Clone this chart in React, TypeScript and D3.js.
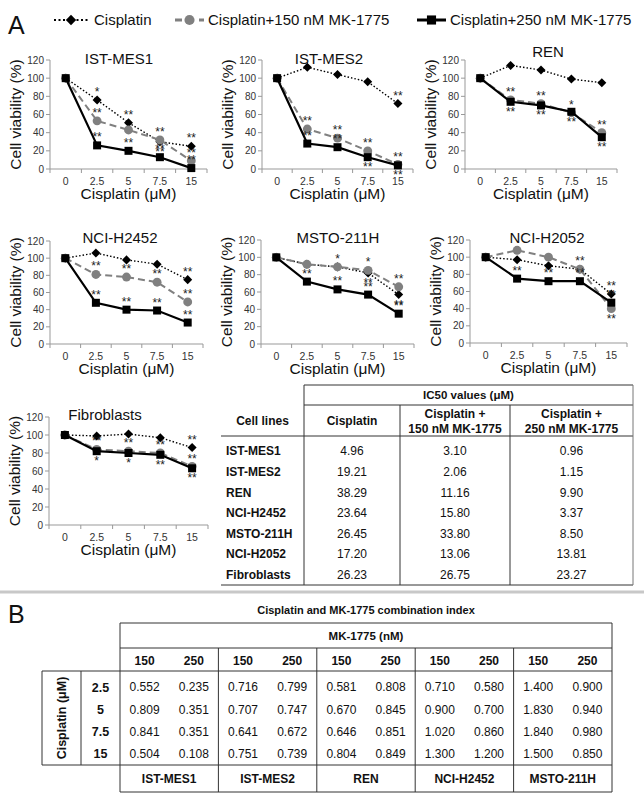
import React from 'react';
import * as d3 from 'd3';

const FONT = '"Liberation Sans", Arial, sans-serif';

// x categories and y ticks of the viability plots
const doses = ['0', '2.5', '5', '7.5', '15'];
const yTicks = [0, 20, 40, 60, 80, 100, 120];
const seriesNames = ['Cisplatin', 'Cisplatin+150 nM MK-1775', 'Cisplatin+250 nM MK-1775'];

const cellLines = ['IST-MES1', 'IST-MES2', 'REN', 'NCI-H2452', 'MSTO-211H', 'NCI-H2052', 'Fibroblasts'];

// cell viability (%) per cell line, one value per dose
const viabilityCisplatin = [
  [100, 76, 51, 30, 25],
  [100, 112, 104, 96, 72],
  [100, 114, 109, 99, 95],
  [100, 106, 98, 93, 75],
  [100, 92, 89, 82, 57],
  [100, 97, 90, 86, 57],
  [100, 99, 101, 97, 86],
];
const viability150 = [
  [100, 53, 43, 32, 9],
  [100, 44, 34, 20, 5],
  [100, 76, 72, 62, 40],
  [100, 81, 78, 72, 49],
  [100, 92, 89, 85, 66],
  [100, 108, 100, 86, 40],
  [100, 84, 82, 80, 65],
];
const viability250 = [
  [100, 26, 20, 13, 1],
  [100, 28, 24, 13, 4],
  [100, 74, 70, 63, 35],
  [100, 48, 40, 39, 25],
  [100, 72, 63, 57, 35],
  [100, 75, 72, 72, 47],
  [100, 82, 80, 78, 63],
];

// significance marks: [series, dose index, above/below, text]
const stars: [number, number, string, string][][] = [
  [[0, 1, 'a', '*'], [1, 1, 'a', '**'], [2, 1, 'a', '**'], [0, 2, 'a', '**'], [2, 2, 'a', '**'],
   [1, 3, 'a', '**'], [0, 3, 'b', '**'], [2, 3, 'a', '**'], [0, 4, 'a', '**'], [1, 4, 'a', '**'], [2, 4, 'a', '**']],
  [[0, 4, 'a', '**'], [1, 1, 'a', '**'], [2, 1, 'a', '**'], [1, 2, 'a', '**'], [2, 2, 'a', '**'],
   [1, 3, 'a', '**'], [2, 3, 'b', '**'], [2, 4, 'a', '**'], [2, 4, 'b', '**']],
  [[1, 1, 'a', '**'], [2, 1, 'b', '**'], [1, 2, 'a', '**'], [2, 2, 'b', '**'], [1, 3, 'a', '*'],
   [2, 3, 'b', '**'], [1, 4, 'a', '**'], [2, 4, 'b', '**']],
  [[1, 1, 'a', '**'], [2, 1, 'a', '**'], [1, 2, 'a', '**'], [2, 2, 'a', '**'], [1, 3, 'a', '**'],
   [2, 3, 'a', '**'], [0, 4, 'a', '**'], [1, 4, 'a', '**'], [2, 4, 'a', '**']],
  [[2, 1, 'a', '**'], [1, 2, 'a', '*'], [2, 2, 'a', '**'], [1, 3, 'a', '*'], [0, 3, 'b', '**'],
   [2, 3, 'a', '**'], [1, 4, 'a', '**'], [0, 4, 'b', '**'], [2, 4, 'a', '**']],
  [[2, 1, 'a', '**'], [2, 2, 'a', '**'], [1, 3, 'a', '**'], [2, 3, 'a', '**'], [0, 4, 'a', '**'],
   [2, 4, 'a', '**'], [1, 4, 'b', '**']],
  [[1, 1, 'a', '**'], [2, 1, 'b', '*'], [1, 2, 'a', '**'], [2, 2, 'b', '*'], [1, 3, 'a', '**'],
   [2, 3, 'b', '**'], [0, 4, 'a', '**'], [1, 4, 'a', '**'], [2, 4, 'b', '**']],
];

// IC50 table
const ic50Headers = ['Cell lines', 'Cisplatin', 'Cisplatin +|150 nM MK-1775', 'Cisplatin +|250 nM MK-1775'];
const ic50Cisplatin = [4.96, 19.21, 38.29, 23.64, 26.45, 17.2, 26.23];
const ic50With150 = [3.1, 2.06, 11.16, 15.8, 33.8, 13.06, 26.75];
const ic50With250 = [0.96, 1.15, 9.9, 3.37, 8.5, 13.81, 23.27];

// combination index table
const ciLines = ['IST-MES1', 'IST-MES2', 'REN', 'NCI-H2452', 'MSTO-211H'];
const ciDoses = ['2.5', '5', '7.5', '15'];
const mkDoses = ['150', '250'];
const ci150 = [
  [0.552, 0.809, 0.841, 0.504],
  [0.716, 0.707, 0.641, 0.751],
  [0.581, 0.67, 0.646, 0.804],
  [0.71, 0.9, 1.02, 1.3],
  [1.4, 1.83, 1.84, 1.5],
];
const ci250 = [
  [0.235, 0.351, 0.351, 0.108],
  [0.799, 0.747, 0.672, 0.739],
  [0.808, 0.845, 0.851, 0.849],
  [0.58, 0.7, 0.86, 1.2],
  [0.9, 0.94, 0.98, 0.85],
];

const panels = [
  { left: 50, right: 207, top: 60, bottom: 169, tx: 119, ty: 64 },
  { left: 262, right: 413, top: 60, bottom: 169, tx: 329, ty: 64 },
  { left: 465, right: 617, top: 60, bottom: 169, tx: 548, ty: 57 },
  { left: 50, right: 203, top: 241, bottom: 344, tx: 120, ty: 243 },
  { left: 261, right: 414, top: 240, bottom: 344, tx: 338, ty: 243 },
  { left: 470, right: 627, top: 240, bottom: 343, tx: 547, ty: 243 },
  { left: 49, right: 208, top: 417, bottom: 525, tx: 105, ty: 420 },
];

const styles = [
  { stroke: '#000', dash: '1.5,2', width: 1.4, fill: '#000', symbol: d3.symbolDiamond2, size: 52 },
  { stroke: '#808080', dash: '7,4', width: 2, fill: '#808080', symbol: d3.symbolCircle, size: 62 },
  { stroke: '#000', dash: null, width: 2.2, fill: '#000', symbol: d3.symbolSquare, size: 64 },
];

const AXIS = '#999';

function ViabilityPanel({ index }: { index: number }) {
  const p = panels[index];
  const x = d3.scaleBand().domain(doses).range([p.left, p.right]);
  const y = d3.scaleLinear().domain([0, 120]).range([p.bottom, p.top]);
  const cx = (j: number) => (x(doses[j]) as number) + x.bandwidth() / 2;
  const series = [viabilityCisplatin[index], viability150[index], viability250[index]];
  const line = d3.line<number>().x((_, j) => cx(j)).y(v => y(v));
  const midY = (p.top + p.bottom) / 2;
  return (
    <g>
      <text x={p.tx} y={p.ty} fontSize={15} textAnchor="middle" fill="#111">{cellLines[index]}</text>
      <line x1={p.left} x2={p.left} y1={p.top} y2={p.bottom} stroke={AXIS} />
      <line x1={p.left} x2={p.right} y1={p.bottom} y2={p.bottom} stroke={AXIS} />
      {yTicks.map(t => (
        <g key={t}>
          <line x1={p.left - 4} x2={p.left} y1={y(t)} y2={y(t)} stroke={AXIS} />
          <text x={p.left - 6} y={y(t)} dy="0.35em" fontSize={10} textAnchor="end" fill="#333">{t}</text>
        </g>
      ))}
      {doses.map(d => (
        <line key={d} x1={x(d)} x2={x(d)} y1={p.bottom} y2={p.bottom + 4} stroke={AXIS} />
      ))}
      <line x1={p.right} x2={p.right} y1={p.bottom} y2={p.bottom + 4} stroke={AXIS} />
      {doses.map((d, j) => (
        <text key={d} x={cx(j)} y={p.bottom + 16} fontSize={10.5} textAnchor="middle" fill="#333">{d}</text>
      ))}
      <text x={(p.left + p.right) / 2} y={p.bottom + 30} fontSize={15.5} textAnchor="middle" fill="#111">Cisplatin (μM)</text>
      <text transform={`translate(${p.left - 29},${midY}) rotate(-90)`} fontSize={15.5} textAnchor="middle" fill="#111">Cell viability (%)</text>
      {series.map((vals, s) => (
        <g key={s}>
          <path d={line(vals) || ''} fill="none" stroke={styles[s].stroke} strokeWidth={styles[s].width}
            strokeDasharray={styles[s].dash || undefined} />
          {vals.map((v, j) => (
            <path key={j} transform={`translate(${cx(j)},${y(v)})`}
              d={d3.symbol().type(styles[s].symbol).size(styles[s].size)() || ''} fill={styles[s].fill} />
          ))}
        </g>
      ))}
      {stars[index].map(([s, j, pos, txt], k) => (
        <text key={k} x={cx(j)} y={y(series[s][j]) + (pos === 'a' ? -4 : 14)} fontSize={12}
          textAnchor="middle" fill="#222">{txt}</text>
      ))}
    </g>
  );
}

function Legend() {
  const items = [
    { x0: 54, x1: 88, tx: 94 },
    { x0: 175, x1: 204, tx: 208 },
    { x0: 417, x1: 446, tx: 450 },
  ];
  const ly = 20;
  return (
    <g>
      {items.map((it, s) => (
        <g key={s}>
          <line x1={it.x0} x2={it.x1} y1={ly} y2={ly} stroke={styles[s].stroke} strokeWidth={s === 0 ? 2 : 3}
            strokeDasharray={s === 0 ? '2,2.5' : s === 1 ? '7,5' : undefined} />
          <path transform={`translate(${(it.x0 + it.x1) / 2},${ly})`}
            d={d3.symbol().type(styles[s].symbol).size(styles[s].size * 1.3)() || ''} fill={styles[s].fill} />
          <text x={it.tx} y={ly + 5} fontSize={15} fill="#111">{seriesNames[s]}</text>
        </g>
      ))}
    </g>
  );
}

const LINE = '#333';

function Ic50Table() {
  const cols = [221, 304, 400, 510, 633];
  const top = 385, h1 = 405, h2 = 436, bottom = 585;
  const rows = d3.scaleBand().domain(cellLines).range([441, bottom]);
  const values = [ic50Cisplatin, ic50With150, ic50With250];
  return (
    <g fontSize={11.5} fill="#111">
      <line x1={cols[1]} x2={cols[4]} y1={top} y2={top} stroke={LINE} />
      <line x1={cols[1]} x2={cols[4]} y1={h1} y2={h1} stroke={LINE} />
      <line x1={cols[0]} x2={cols[4]} y1={h2} y2={h2} stroke={LINE} />
      <line x1={cols[0]} x2={cols[4]} y1={bottom} y2={bottom} stroke={LINE} />
      {cols.slice(1).map((c, i) => (
        <line key={i} x1={c} x2={c} y1={i === 0 || i === 3 ? top : h1} y2={bottom} stroke={i === 3 ? '#777' : LINE} />
      ))}
      <text x={(cols[1] + cols[4]) / 2} y={(top + h1) / 2} dy="0.35em" textAnchor="middle" fontWeight="bold">IC50 values (μM)</text>
      {ic50Headers.map((hd, i) => {
        const parts = hd.split('|');
        const mid = (cols[i] + cols[i + 1]) / 2;
        const cy = 421;
        return parts.map((t, k) => (
          <text key={i + '-' + k} x={mid} y={cy + (k - (parts.length - 1) / 2) * 15} dy="0.35em"
            textAnchor="middle" fontWeight="bold" fontSize={12}>{t}</text>
        ));
      })}
      {cellLines.map((c, r) => {
        const cy = (rows(c) as number) + rows.bandwidth() / 2;
        return (
          <g key={c}>
            <text x={cols[0] + 5} y={cy} dy="0.35em" fontWeight="bold" fontSize={12}>{c}</text>
            {values.map((v, k) => (
              <text key={k} x={(cols[k + 1] + cols[k + 2]) / 2} y={cy} dy="0.35em" textAnchor="middle" fontSize={12}>{v[r].toFixed(2)}</text>
            ))}
          </g>
        );
      })}
    </g>
  );
}

function CombinationTable() {
  const outerL = 42, concL = 81, dataL = 120, dataR = 612;
  const top = 623, hMk = 648, hSub = 671, dataB = 765, bottom = 792;
  const groups = d3.scaleBand().domain(ciLines).range([dataL, dataR]);
  const sub = d3.scaleBand().domain(mkDoses).range([0, groups.bandwidth()]);
  const rows = d3.scaleBand().domain(ciDoses).range([676, dataB]);
  const gw = groups.bandwidth();
  return (
    <g fontSize={12} fill="#111">
      <text x={(dataL + dataR) / 2} y={614} textAnchor="middle" fontWeight="bold" fontSize={11}>Cisplatin and MK-1775 combination index</text>
      <line x1={dataL} x2={dataR} y1={top} y2={top} stroke={LINE} />
      <line x1={dataL} x2={dataR} y1={hMk} y2={hMk} stroke={LINE} />
      <line x1={outerL} x2={dataR} y1={hSub} y2={hSub} stroke={LINE} />
      <line x1={outerL} x2={dataR} y1={dataB} y2={dataB} stroke={LINE} />
      <line x1={dataL} x2={dataR} y1={bottom} y2={bottom} stroke={LINE} />
      <line x1={outerL} x2={outerL} y1={hSub} y2={dataB} stroke={LINE} />
      <line x1={concL} x2={concL} y1={hSub} y2={dataB} stroke={LINE} />
      <line x1={dataL} x2={dataL} y1={top} y2={bottom} stroke={LINE} />
      <line x1={dataR} x2={dataR} y1={top} y2={bottom} stroke={LINE} />
      {ciLines.slice(1).map(c => (
        <line key={c} x1={groups(c)} x2={groups(c)} y1={hMk} y2={bottom} stroke={LINE} />
      ))}
      <text x={(dataL + dataR) / 2} y={(top + hMk) / 2} dy="0.35em" textAnchor="middle" fontWeight="bold" fontSize={11.5}>MK-1775 (nM)</text>
      <text transform={`translate(${(outerL + concL) / 2},${(hSub + dataB) / 2}) rotate(-90)`} dy="0.35em"
        textAnchor="middle" fontWeight="bold" fontSize={12.5}>Cisplatin (μM)</text>
      {ciLines.map((c, g) => {
        const gx = groups(c) as number;
        return (
          <g key={c}>
            {mkDoses.map(m => (
              <text key={m} x={gx + (sub(m) as number) + sub.bandwidth() / 2} y={(hMk + hSub) / 2 + 1} dy="0.35em"
                textAnchor="middle" fontWeight="bold">{m}</text>
            ))}
            {ciDoses.map((d, r) => {
              const cy = (rows(d) as number) + rows.bandwidth() / 2;
              return (
                <g key={d}>
                  <text x={gx + (sub('150') as number) + sub.bandwidth() / 2} y={cy} dy="0.35em" textAnchor="middle">{ci150[g][r].toFixed(3)}</text>
                  <text x={gx + (sub('250') as number) + sub.bandwidth() / 2} y={cy} dy="0.35em" textAnchor="middle">{ci250[g][r].toFixed(3)}</text>
                </g>
              );
            })}
            <text x={gx + gw / 2} y={(dataB + bottom) / 2} dy="0.35em" textAnchor="middle" fontWeight="bold">{c}</text>
          </g>
        );
      })}
      {ciDoses.map(d => (
        <text key={d} x={(concL + dataL) / 2} y={(rows(d) as number) + rows.bandwidth() / 2} dy="0.35em"
          textAnchor="middle" fontWeight="bold" fontSize={12.5}>{d}</text>
      ))}
    </g>
  );
}

export default function App() {
  return (
    <svg width={644} height={800} style={{ position: 'absolute', left: 0, top: 0 }} fontFamily={FONT}>
      <rect width={644} height={800} fill="#fff" />
      <text x={8} y={34} fontSize={25} fill="#111">A</text>
      <Legend />
      {cellLines.map((c, i) => <ViabilityPanel key={c} index={i} />)}
      <Ic50Table />
      <line x1={0} x2={644} y1={592} y2={592} stroke="#c8c8c8" strokeWidth={3} />
      <text x={8} y={623} fontSize={25} fill="#111">B</text>
      <CombinationTable />
    </svg>
  );
}
